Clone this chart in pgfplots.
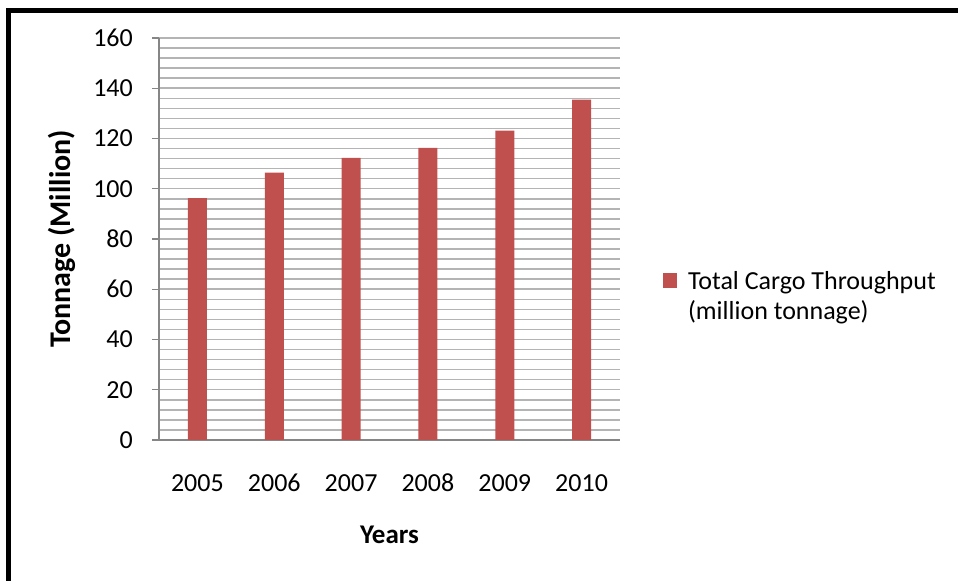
\documentclass[border=0pt]{standalone}
\usepackage{fontspec}
\setmainfont{Carlito}
\usepackage{pgfplots}
\pgfplotsset{compat=1.18}
\definecolor{barred}{HTML}{C0504D}
\definecolor{gridgray}{HTML}{B4B4B4}
\definecolor{axisgray}{HTML}{868686}

\begin{document}
\fontsize{26bp}{30bp}\selectfont
\begin{tikzpicture}[x=1bp,y=1bp]
\useasboundingbox (0,0) rectangle (958,581);
% outer frame (left and top edges)
\draw[line width=5bp, line cap=rect, line join=miter] (8.5,-5) -- (8.5,570.7) -- (965,570.7);
\begin{axis}[
  at={(159bp,141bp)}, anchor=south west,
  scale only axis, width=461bp, height=402bp,
  xmin=-0.5, xmax=5.5, ymin=0, ymax=160,
  axis lines=left,
  axis line style={-, draw=axisgray, line width=1.4bp},
  xtick={0,1,2,3,4,5},
  xticklabels={2005,2006,2007,2008,2009,2010},
  x tick style={draw=none},
  ytick={0,20,...,160},
  minor y tick num=4,
  ymajorgrids, yminorgrids,
  major grid style={draw=gridgray, line width=1.5bp},
  minor grid style={draw=gridgray, line width=1.5bp},
  tick align=outside,
  major tick length=7bp,
  minor tick length=0bp,
  y tick style={draw=axisgray, line width=1.4bp},
  /pgf/number format/assume math mode=true,
  yticklabel style={font=\fontsize{26bp}{30bp}\selectfont, inner sep=0pt, xshift=-19bp},
  xticklabel style={font=\fontsize{26bp}{30bp}\selectfont, inner sep=0pt, anchor=base, yshift=-45bp},
  xlabel={\textbf{Years}},
  ylabel={\textbf{Tonnage (Million)}},
  xlabel style={font=\fontsize{27bp}{30bp}\selectfont, at={(axis description cs:0.5,-0.2363)}, anchor=center},
  ylabel style={font=\fontsize{30bp}{34bp}\selectfont, at={(axis description cs:-0.2104,0.5)}, anchor=center},
  ybar, bar width=19bp,
  legend style={at={(axis description cs:1.093,0.42)}, anchor=north west,
    draw=none, fill=none, inner sep=0pt,
    nodes={inner sep=0pt, align=left, font=\fontsize{26bp}{30bp}\selectfont},
    column sep=11bp},
  legend image code/.code={\fill[barred] (0bp,9bp) rectangle (14bp,24bp);},
]
\addplot[fill=barred, draw=none] coordinates {
  (0,96.3) (1,106.4) (2,112.3) (3,116.3) (4,123.1) (5,135.5)
};
\addlegendentry{Total Cargo Throughput\\(million tonnage)}
\end{axis}
\end{tikzpicture}
\end{document}
